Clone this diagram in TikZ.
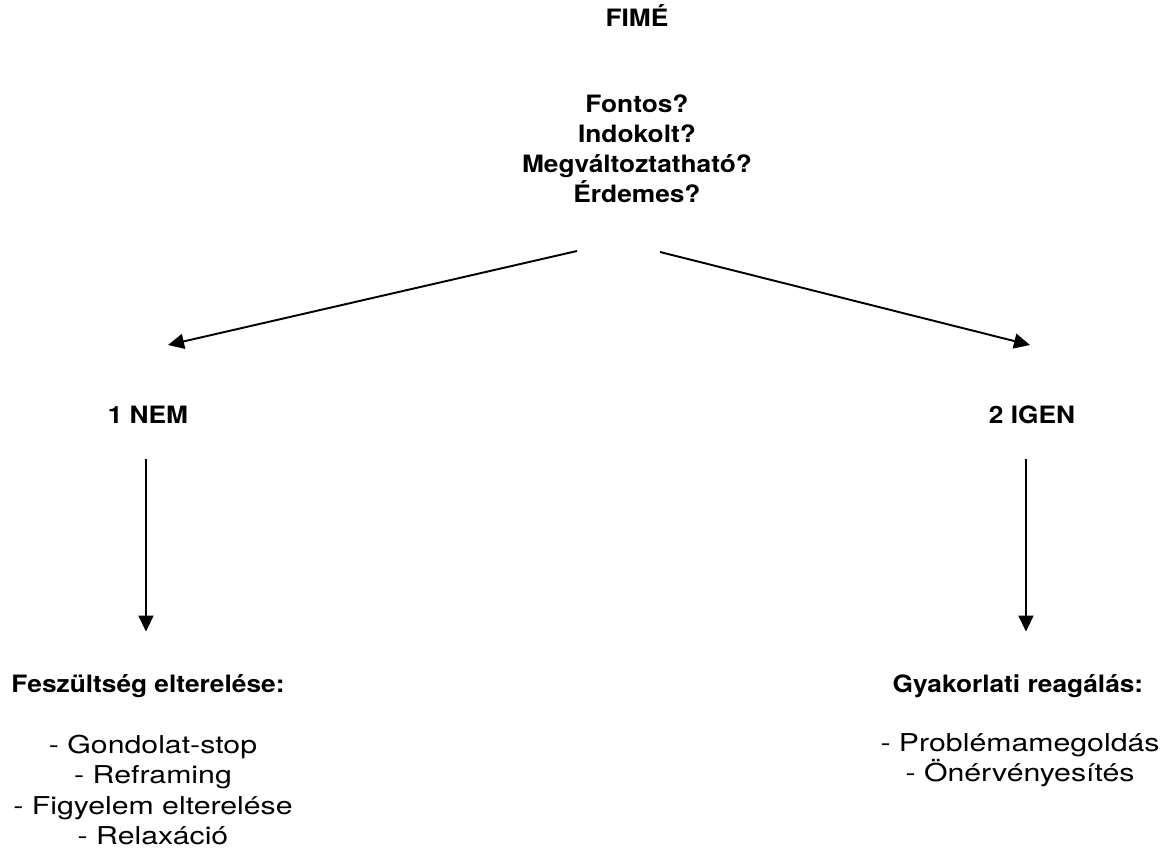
\documentclass[tikz,border=0pt]{standalone}
\usepackage{fontspec}
\setmainfont{TeX Gyre Heros}
\newfontfamily\headfam[FakeStretch=1.1]{TeX Gyre Heros}
\newfontfamily\itemfam[FakeStretch=1.23]{TeX Gyre Heros}
\usepackage{tikz}
\usetikzlibrary{arrows.meta, positioning}

\begin{document}
\begin{tikzpicture}[
    head/.style={font=\headfam\fontsize{13.6}{17}\selectfont\bfseries, align=center, inner sep=0pt},
    item/.style={font=\itemfam\fontsize{14}{17.2}\selectfont, align=center, inner sep=0pt},
    arr/.style={-{Triangle[length=0.32cm, width=0.3cm]}, line width=1.1pt, black}
]
\useasboundingbox (0,0) rectangle (23.2,-17.3);

% Kérdések
\node[head] (fime)  at (12.74,-0.32) {FIMÉ};
\node[head] (quest) at (12.74,-2.97) {Fontos?\\Indokolt?\\Megváltoztatható?\\Érdemes?};

% Két ág
\node[head] (nem)  at (2.96,-8.3)  {1 NEM};
\node[head] (igen) at (20.64,-8.3) {2 IGEN};

% Válaszok
\node[head] (fesz) at (2.96,-13.72)  {Feszültség elterelése:};
\node[head] (gyak) at (20.36,-13.72) {Gyakorlati reagálás:};
\node[item] (listL) at (3.06,-15.8) {- Gondolat-stop\\- Reframing\\- Figyelem elterelése\\- Relaxáció};
\node[item] (listR) at (20.4,-15.21) {- Problémamegoldás\\- Önérvényesítés};

% Nyilak végpontjai
\coordinate (qL) at (11.54,-5.02);
\coordinate (qR) at (13.2,-5.04);
\coordinate (nL) at (3.36,-6.9);
\coordinate (nR) at (20.6,-6.9);

\draw[arr] (qL) -- (nL);
\draw[arr] (qR) -- (nR);
\draw[arr] ([xshift=-0.04cm, yshift=-0.7cm]nem.south) -- ([xshift=-0.04cm, yshift=0.85cm]fesz.north);
\draw[arr] ([xshift=-0.12cm, yshift=-0.7cm]igen.south) -- ([xshift=-0.12cm, yshift=0.85cm]igen.south |- gyak.north);

\end{tikzpicture}
\end{document}
